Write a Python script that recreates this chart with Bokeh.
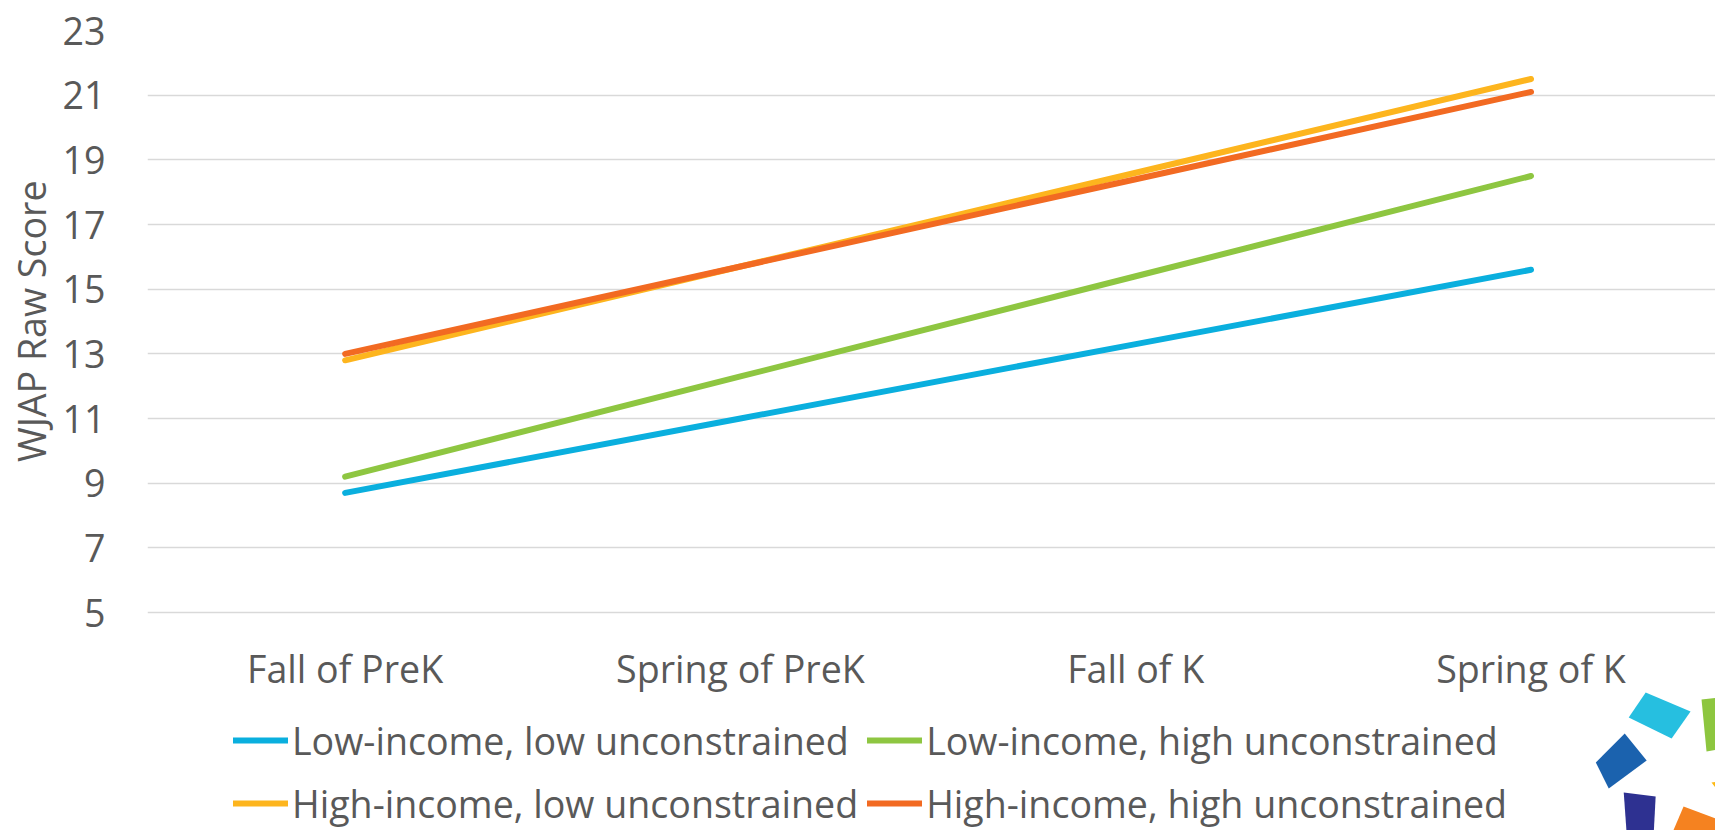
from bokeh.plotting import figure
from bokeh.models import (Range1d, FixedTicker, Legend, LegendItem, Title)
from bokeh.embed import file_html
from bokeh.resources import INLINE

# ---- data ----
categories = ["Fall of PreK", "Spring of PreK", "Fall of K", "Spring of K"]
low_income_low_unc = [8.7, 11.0, 13.3, 15.6]
low_income_high_unc = [9.2, 12.3, 15.4, 18.5]
high_income_low_unc = [12.8, 15.7, 18.6, 21.5]
high_income_high_unc = [13.0, 15.7, 18.4, 21.1]
series_names = ["Low-income, low unconstrained", "Low-income, high unconstrained",
                "High-income, low unconstrained", "High-income, high unconstrained"]
y_ticks = [5, 7, 9, 11, 13, 15, 17, 19, 21, 23]
y_axis_title = "WJAP Raw Score"

colors = ["#0AAFDE", "#8EC641", "#FDB51E", "#F26A22"]
TEXT = "#595959"
FONT = "Open Sans"
FS = "37.6px"

W, H = 1715, 830
LEFT, TOP = 143, 30
OX, OY = 2, 1                      # observed canvas offset on the page
PX_PER_UNIT = 582 / 18.0
BAND = 396.3
y_low = 5 - (H - (TOP + 582)) / PX_PER_UNIT
x_high = -0.5 + (W - LEFT) / BAND

xs = list(range(len(categories)))

p = figure(width=W, height=H, output_backend="svg", toolbar_location=None,
           x_range=Range1d(-0.5, x_high), y_range=Range1d(y_low, 23),
           min_border_left=LEFT, min_border_right=0, min_border_top=TOP,
           min_border_bottom=0, outline_line_color=None)
p.background_fill_color = "white"
p.border_fill_color = "white"

renderers = []
for vals, c in zip([low_income_low_unc, low_income_high_unc,
                    high_income_low_unc, high_income_high_unc], colors):
    r = p.line(xs, vals, line_color=c, line_width=6, line_cap="round", line_join="round")
    renderers.append(r)

# axes
p.xaxis.ticker = FixedTicker(ticks=xs)
p.xaxis.major_label_overrides = {i: c for i, c in enumerate(categories)}
p.xaxis.fixed_location = 5
p.yaxis.ticker = FixedTicker(ticks=y_ticks)
for ax in (p.xaxis[0], p.yaxis[0]):
    ax.axis_line_color = None
    ax.major_tick_line_color = None
    ax.minor_tick_line_color = None
    ax.major_tick_out = 0
    ax.major_tick_in = 0
    ax.minor_tick_out = 0
    ax.major_label_text_font = FONT
    ax.major_label_text_font_size = FS
    ax.major_label_text_color = TEXT
p.xaxis.major_label_standoff = 30
p.yaxis.major_label_standoff = 42

p.add_layout(Title(text=y_axis_title, align="right", offset=150, standoff=6,
                   text_font=FONT, text_font_size=FS, text_font_style="normal",
                   text_color=TEXT), "left")

p.xgrid.grid_line_color = None
p.ygrid.grid_line_color = "#D9D9D9"
p.ygrid.grid_line_width = 1.6

legend = Legend(items=[LegendItem(label=n, renderers=[r]) for n, r in zip(series_names, renderers)],
                location=(86, 0), orientation="horizontal", ncols=2,
                label_text_font=FONT, label_text_font_size=FS, label_text_color=TEXT,
                glyph_width=55, glyph_height=54, label_height=54, label_standoff=4,
                spacing=9, padding=0, margin=0, border_line_alpha=0,
                background_fill_alpha=0)
p.add_layout(legend, "center")

# decorative logo fragment (bottom-right corner), drawn in page pixel coordinates
p.extra_x_ranges = {"px": Range1d(LEFT + OX, W + OX)}
p.extra_y_ranges = {"py": Range1d(H + OY, TOP + OY)}
logo_colors = ["#26BFE0", "#1B62AE", "#8DC63F", "#2E3191", "#F58220", "#FDB913"]
logo_xs = [[1630, 1647, 1692, 1673], [1597, 1626, 1648, 1610], [1703, 1720, 1720, 1708],
           [1625, 1657, 1655, 1628], [1685, 1720, 1720, 1673], [1713, 1720, 1720]]
logo_ys = [[718, 693, 712, 739], [763, 734, 761, 789], [700, 698, 750, 752],
           [793, 797, 835, 835], [807, 820, 835, 835], [783, 782, 792]]
p.patches(logo_xs, logo_ys, fill_color=logo_colors, line_color=None,
          x_range_name="px", y_range_name="py")

open("out.html", "w").write(file_html(p, INLINE))
